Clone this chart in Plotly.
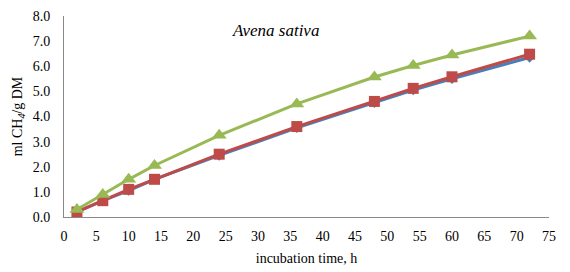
import plotly.graph_objects as go

hours = [2, 6, 10, 14, 24, 36, 48, 54, 60, 72]
series_blue = [0.2, 0.65, 1.05, 1.5, 2.45, 3.55, 4.55, 5.05, 5.5, 6.35]
series_red = [0.2, 0.65, 1.1, 1.5, 2.5, 3.6, 4.6, 5.12, 5.58, 6.48]
series_green = [0.3, 0.9, 1.5, 2.05, 3.25, 4.5, 5.57, 6.03, 6.45, 7.2]
x_ticks = list(range(0, 80, 5))
y_ticks = [i * 1.0 for i in range(9)]

font = "Liberation Serif"
fig = go.Figure()
fig.add_trace(go.Scatter(x=hours, y=series_blue, mode="lines+markers",
                         line=dict(color="#4A7EBB", width=3),
                         marker=dict(symbol="diamond", size=8, color="#4A7EBB")))
fig.add_trace(go.Scatter(x=hours, y=series_red, mode="lines+markers",
                         line=dict(color="#BE4B48", width=3),
                         marker=dict(symbol="square", size=11, color="#BE4B48")))
fig.add_trace(go.Scatter(x=hours, y=series_green, mode="lines+markers",
                         line=dict(color="#98B954", width=3),
                         marker=dict(symbol="triangle-up", size=13, color="#98B954")))

fig.update_layout(
    width=570, height=272, showlegend=False,
    margin=dict(l=56, r=29, t=8, b=63),
    plot_bgcolor="white", paper_bgcolor="white",
    font=dict(family=font, size=14, color="black"),
    xaxis=dict(range=[0, 75], tickvals=x_ticks, showgrid=False, zeroline=False,
               showline=True, linecolor="#888888", linewidth=1, ticks="", automargin=False,
               ticklabelstandoff=6, tickfont=dict(family=font, size=14),
               title=dict(text="incubation time, h", font=dict(family=font, size=14), standoff=10)),
    yaxis=dict(range=[0, 8], tickvals=y_ticks, tickformat=".1f", showgrid=False,
               zeroline=False, showline=True, linecolor="#888888", linewidth=1, ticks="",
               automargin=False, ticklabelstandoff=10, tickfont=dict(family=font, size=14),
               title=dict(text="ml CH<sub><i>4</i></sub>/g DM", font=dict(family=font, size=14), standoff=6)),
    annotations=[dict(text="<i>Avena sativa</i>", x=0.437, y=0.93, xref="paper", yref="paper",
                      xanchor="center", yanchor="middle",
                      showarrow=False, font=dict(size=17, family=font))],
)
fig.write_html("out.html")
